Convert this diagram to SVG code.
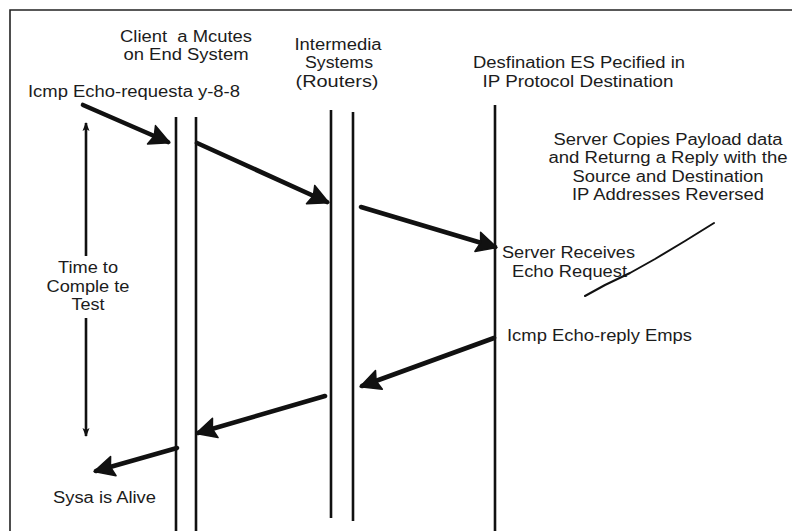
<svg xmlns="http://www.w3.org/2000/svg" width="792" height="531" viewBox="0 0 792 531">
  <style>
    text { font-family: "Liberation Sans", Arial, Helvetica, sans-serif; font-size: 16px; fill: #1c1c1c; }
    .mid { text-anchor: middle; }
    .life { stroke: #111; stroke-width: 2.6; fill: none; }
    .msg { stroke: #111; stroke-width: 4.6; stroke-linecap: round; stroke-linejoin: round; fill: none; marker-end: url(#bigHead); }
    .span { stroke: #111; stroke-width: 2.6; fill: none; marker-end: url(#smallHead); }
    .frame { stroke: #222; stroke-width: 1.6; fill: none; }
  </style>
  <defs>
    <!-- heavy hand-drawn style head for message arrows -->
    <marker id="bigHead" markerUnits="userSpaceOnUse" viewBox="-22 -12 25 24" markerWidth="25" markerHeight="24" refX="0" refY="0" orient="auto">
      <path d="M2,0 L-18,-10 L-15,0 L-18,10 Z" fill="#111" stroke="#111" stroke-width="1.5" stroke-linejoin="round"/>
    </marker>
    <!-- small head for the timing span -->
    <marker id="smallHead" markerUnits="userSpaceOnUse" viewBox="-9 -5 10 10" markerWidth="10" markerHeight="10" refX="0" refY="0" orient="auto">
      <path d="M1,0 L-8,-3.5 L-6,0 L-8,3.5 Z" fill="#111"/>
    </marker>
  </defs>

  <rect width="792" height="531" fill="#fff"/>
  <!-- frame: only top and left edges fall inside the sheet -->
  <path class="frame" d="M10,540 L10,10 L800,10"/>

  <g id="client">
    <text class="mid" x="186" y="42" textLength="132" lengthAdjust="spacingAndGlyphs" xml:space="preserve" style="white-space:pre">Client  a Mcutes</text>
    <text class="mid" x="186" y="60" textLength="125" lengthAdjust="spacingAndGlyphs">on End System</text>
    <line class="life" x1="176" y1="117" x2="176" y2="531"/>
    <line class="life" x1="196" y1="117" x2="196" y2="531"/>
  </g>

  <g id="routers">
    <text class="mid" x="338" y="50" textLength="87" lengthAdjust="spacingAndGlyphs">Intermedia</text>
    <text class="mid" x="339" y="68" textLength="68" lengthAdjust="spacingAndGlyphs">Systems</text>
    <text class="mid" x="337" y="87" textLength="83" lengthAdjust="spacingAndGlyphs">(Routers)</text>
    <line class="life" x1="331" y1="110" x2="331" y2="518"/>
    <line class="life" x1="353" y1="112" x2="353" y2="521"/>
  </g>

  <g id="destination">
    <text class="mid" x="579" y="68" textLength="212" lengthAdjust="spacingAndGlyphs">Desfination ES Pecified in</text>
    <text class="mid" x="578" y="87" textLength="191" lengthAdjust="spacingAndGlyphs">IP Protocol Destination</text>
    <line class="life" x1="495" y1="105" x2="495" y2="531"/>
  </g>

  <g id="echo-request-label">
    <text x="28" y="97" textLength="212" lengthAdjust="spacingAndGlyphs">Icmp Echo-requesta y-8-8</text>
  </g>

  <g id="server-receives">
    <text x="502" y="258" textLength="133" lengthAdjust="spacingAndGlyphs">Server Receives</text>
    <text x="512" y="277" textLength="115" lengthAdjust="spacingAndGlyphs">Echo Request</text>
  </g>

  <g id="server-copies">
    <text class="mid" x="668" y="145" textLength="229" lengthAdjust="spacingAndGlyphs">Server Copies Payload data</text>
    <text class="mid" x="668" y="163" textLength="239" lengthAdjust="spacingAndGlyphs">and Returng a Reply with the</text>
    <text class="mid" x="668" y="182" textLength="191" lengthAdjust="spacingAndGlyphs">Source and Destination</text>
    <text class="mid" x="668" y="200" textLength="192" lengthAdjust="spacingAndGlyphs">IP Addresses Reversed</text>
    <path d="M585,296 L605,285 L630,273 L655,259 L685,241 L714,223" stroke="#111" stroke-width="2" fill="none" stroke-linecap="round" stroke-linejoin="round"/>
  </g>

  <g id="echo-reply-label">
    <text x="507" y="341" textLength="185" lengthAdjust="spacingAndGlyphs">Icmp Echo-reply Emps</text>
  </g>

  <g id="alive-label">
    <text x="53" y="503" textLength="103" lengthAdjust="spacingAndGlyphs">Sysa is Alive</text>
  </g>

  <g id="time-to-complete">
    <text class="mid" x="88" y="273" textLength="60" lengthAdjust="spacingAndGlyphs">Time to</text>
    <text class="mid" x="88" y="292" textLength="83" lengthAdjust="spacingAndGlyphs">Comple te</text>
    <text class="mid" x="88" y="310" textLength="33" lengthAdjust="spacingAndGlyphs">Test</text>
    <line class="span" x1="86" y1="256" x2="86" y2="123"/>
    <line class="span" x1="86" y1="318" x2="86" y2="436"/>
  </g>

  <g id="connectors">
    <line class="msg" x1="83" y1="105" x2="168" y2="142"/>
    <line class="msg" x1="197" y1="143" x2="327" y2="202"/>
    <line class="msg" x1="361" y1="207" x2="495" y2="247"/>
    <line class="msg" x1="494" y1="338" x2="362" y2="386"/>
    <line class="msg" x1="325" y1="396" x2="198" y2="433"/>
    <line class="msg" x1="177" y1="448" x2="96" y2="471"/>
  </g>
</svg>
